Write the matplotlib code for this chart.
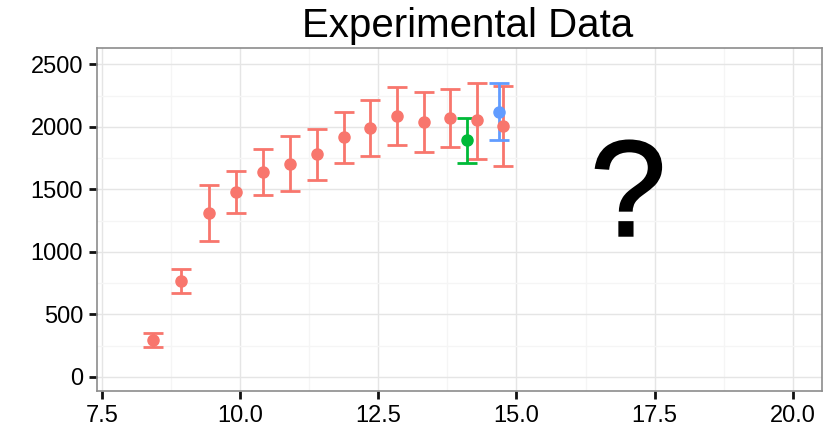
import matplotlib
matplotlib.use('Agg')
import matplotlib.pyplot as plt
import matplotlib.patheffects as pe
from matplotlib.ticker import MultipleLocator

# data
x_red = [8.43, 8.93, 9.44, 9.93, 10.42, 10.90, 11.39, 11.88, 12.36, 12.84, 13.33, 13.80, 14.28, 14.76]
y_red = [293, 768, 1314, 1479, 1636, 1706, 1783, 1919, 1991, 2087, 2039, 2071, 2052, 2004]
lo_red = [237, 672, 1090, 1314, 1453, 1485, 1578, 1714, 1767, 1852, 1802, 1836, 1746, 1684]
hi_red = [354, 861, 1538, 1647, 1823, 1924, 1986, 2122, 2212, 2321, 2276, 2305, 2353, 2324]

x_green = [14.10]
y_green = [1892]
lo_green = [1711]
hi_green = [2071]

x_blue = [14.69]
y_blue = [2122]
lo_blue = [1895]
hi_blue = [2351]

x_ticks = [7.5, 10.0, 12.5, 15.0, 17.5, 20.0]
y_ticks = [0, 500, 1000, 1500, 2000, 2500]

plt.rcParams['font.family'] = ['Liberation Sans', 'DejaVu Sans']

fig = plt.figure(figsize=(8.32, 4.37), dpi=100)
ax = fig.add_axes([97/832, 1 - 391/437, (822 - 97)/832, (391 - 48)/437])

def draw(xs, ys, lo, hi, color):
    err = [[y - l for y, l in zip(ys, lo)], [h - y for y, h in zip(ys, hi)]]
    ax.errorbar(xs, ys, yerr=err, fmt='o', color=color, ecolor=color,
                markersize=8, elinewidth=2.0, capsize=7.5, capthick=2.0, zorder=3)

draw(x_red, y_red, lo_red, hi_red, '#F8766D')
draw(x_green, y_green, lo_green, hi_green, '#00BA38')
draw(x_blue, y_blue, lo_blue, hi_blue, '#619CFF')

ax.text(17.02, 1410, '?', fontsize=98, ha='center', va='center', color='black',
        path_effects=[pe.withStroke(linewidth=1.6, foreground='black', joinstyle='miter')])

ax.set_xlim(7.415, 20.525)
ax.set_ylim(-112, 2630)
ax.set_xticks(x_ticks)
ax.set_xticklabels([f'{v:.1f}' for v in x_ticks])
ax.set_yticks(y_ticks)
ax.xaxis.set_minor_locator(MultipleLocator(1.25))
ax.yaxis.set_minor_locator(MultipleLocator(250))

ax.grid(which='major', color='#E5E5E5', linewidth=1.0)
ax.grid(which='minor', color='#F5F5F5', linewidth=1.0)
ax.set_axisbelow(True)
ax.tick_params(which='major', length=6, width=2.0, color='#111111',
               labelsize=17, labelcolor='black', pad=4)
ax.tick_params(which='minor', length=0)
for s in ax.spines.values():
    s.set_color('#8C8C8C')
    s.set_linewidth(1.2)

fig.text(468/832, 1 - 26/437, 'Experimental Data', fontsize=29,
         ha='center', va='center', color='black')

fig.savefig('out.png', dpi=100)
